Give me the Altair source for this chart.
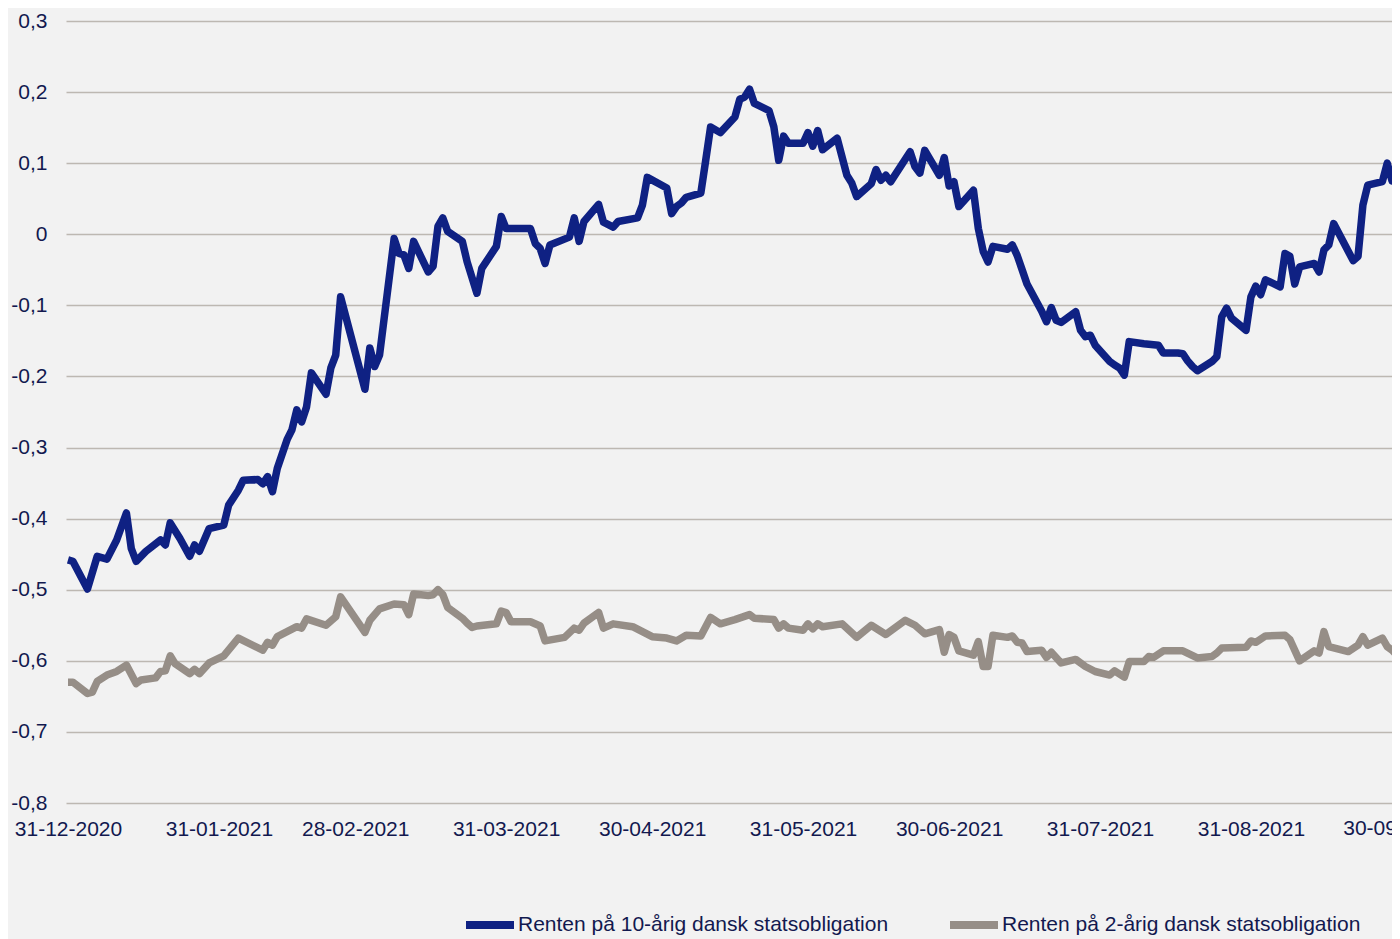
import altair as alt
import pandas as pd

SERIES_10 = "Renten på 10-årig dansk statsobligation"
SERIES_2 = "Renten på 2-årig dansk statsobligation"

dates_10 = [
    "2020-12-31", "2021-01-01", "2021-01-04", "2021-01-06", "2021-01-08", "2021-01-10",
    "2021-01-12", "2021-01-13", "2021-01-14", "2021-01-16", "2021-01-19", "2021-01-20",
    "2021-01-21", "2021-01-23", "2021-01-25", "2021-01-26", "2021-01-27", "2021-01-29",
    "2021-02-01", "2021-02-02", "2021-02-04", "2021-02-05", "2021-02-08", "2021-02-09",
    "2021-02-10", "2021-02-11", "2021-02-12", "2021-02-14", "2021-02-15", "2021-02-16",
    "2021-02-17", "2021-02-18", "2021-02-19", "2021-02-22", "2021-02-23", "2021-02-24",
    "2021-02-25", "2021-03-02", "2021-03-03", "2021-03-04", "2021-03-05", "2021-03-08",
    "2021-03-09", "2021-03-10", "2021-03-11", "2021-03-12", "2021-03-15", "2021-03-16",
    "2021-03-17", "2021-03-18", "2021-03-19", "2021-03-22", "2021-03-23", "2021-03-25",
    "2021-03-26", "2021-03-29", "2021-03-30", "2021-03-31", "2021-04-05", "2021-04-06",
    "2021-04-07", "2021-04-08", "2021-04-09", "2021-04-13", "2021-04-14", "2021-04-15",
    "2021-04-16", "2021-04-19", "2021-04-20", "2021-04-22", "2021-04-23", "2021-04-27",
    "2021-04-28", "2021-04-29", "2021-05-03", "2021-05-04", "2021-05-05", "2021-05-06",
    "2021-05-07", "2021-05-10", "2021-05-11", "2021-05-12", "2021-05-14", "2021-05-17",
    "2021-05-18", "2021-05-19", "2021-05-20", "2021-05-21", "2021-05-24", "2021-05-25",
    "2021-05-26", "2021-05-27", "2021-05-28", "2021-05-31", "2021-06-01", "2021-06-02",
    "2021-06-03", "2021-06-04", "2021-06-07", "2021-06-09", "2021-06-10", "2021-06-11",
    "2021-06-14", "2021-06-15", "2021-06-16", "2021-06-17", "2021-06-18", "2021-06-22",
    "2021-06-23", "2021-06-24", "2021-06-25", "2021-06-28", "2021-06-29", "2021-06-30",
    "2021-07-01", "2021-07-02", "2021-07-05", "2021-07-06", "2021-07-07", "2021-07-08",
    "2021-07-09", "2021-07-12", "2021-07-13", "2021-07-14", "2021-07-15", "2021-07-16",
    "2021-07-19", "2021-07-20", "2021-07-21", "2021-07-22", "2021-07-23", "2021-07-26",
    "2021-07-27", "2021-07-28", "2021-07-29", "2021-07-30", "2021-08-02", "2021-08-03",
    "2021-08-04", "2021-08-05", "2021-08-06", "2021-08-09", "2021-08-12", "2021-08-13",
    "2021-08-16", "2021-08-17", "2021-08-18", "2021-08-19", "2021-08-20", "2021-08-23",
    "2021-08-24", "2021-08-25", "2021-08-26", "2021-08-27", "2021-08-30", "2021-08-31",
    "2021-09-01", "2021-09-02", "2021-09-03", "2021-09-06", "2021-09-07", "2021-09-08",
    "2021-09-09", "2021-09-10", "2021-09-13", "2021-09-14", "2021-09-15", "2021-09-16",
    "2021-09-17", "2021-09-21", "2021-09-22", "2021-09-23", "2021-09-24", "2021-09-27",
    "2021-09-28", "2021-09-29", "2021-09-30", "2021-10-01",
]
values_10 = [
    -0.458, -0.460, -0.499, -0.453, -0.457, -0.430,
    -0.392, -0.442, -0.460, -0.446, -0.430, -0.437,
    -0.406, -0.428, -0.453, -0.437, -0.446, -0.414,
    -0.409, -0.381, -0.360, -0.346, -0.345, -0.351,
    -0.341, -0.362, -0.329, -0.289, -0.275, -0.247,
    -0.264, -0.243, -0.195, -0.225, -0.188, -0.170,
    -0.088, -0.218, -0.160, -0.186, -0.170, -0.006,
    -0.027, -0.029, -0.048, -0.010, -0.053, -0.045,
    0.011, 0.023, 0.004, -0.010, -0.039, -0.083,
    -0.048, -0.017, 0.025, 0.008, 0.008, -0.013,
    -0.020, -0.041, -0.015, -0.004, 0.023, -0.010,
    0.018, 0.042, 0.017, 0.010, 0.018, 0.023,
    0.041, 0.080, 0.065, 0.029, 0.039, 0.044,
    0.052, 0.058, 0.104, 0.151, 0.143, 0.165,
    0.190, 0.193, 0.204, 0.184, 0.174, 0.151,
    0.104, 0.138, 0.128, 0.128, 0.143, 0.124,
    0.146, 0.119, 0.135, 0.083, 0.072, 0.053,
    0.071, 0.091, 0.076, 0.083, 0.074, 0.116,
    0.095, 0.086, 0.118, 0.083, 0.108, 0.068,
    0.074, 0.039, 0.062, 0.008, -0.024, -0.039,
    -0.017, -0.021, -0.015, -0.030, -0.050, -0.070,
    -0.108, -0.123, -0.103, -0.121, -0.124, -0.109,
    -0.135, -0.144, -0.142, -0.156, -0.179, -0.184,
    -0.188, -0.198, -0.151, -0.154, -0.156, -0.167,
    -0.167, -0.168, -0.178, -0.186, -0.192, -0.179,
    -0.172, -0.116, -0.104, -0.118, -0.135, -0.088,
    -0.073, -0.085, -0.064, -0.074, -0.027, -0.031,
    -0.070, -0.046, -0.041, -0.053, -0.022, -0.015,
    0.015, -0.037, -0.031, 0.041, 0.069, 0.074,
    0.100, 0.075, 0.090, -0.005,
]

dates_2 = [
    "2020-12-31", "2021-01-01", "2021-01-04", "2021-01-05", "2021-01-06", "2021-01-08",
    "2021-01-10", "2021-01-12", "2021-01-14", "2021-01-15", "2021-01-18", "2021-01-19",
    "2021-01-20", "2021-01-21", "2021-01-22", "2021-01-25", "2021-01-26", "2021-01-27",
    "2021-01-29", "2021-02-01", "2021-02-04", "2021-02-09", "2021-02-10", "2021-02-11",
    "2021-02-12", "2021-02-16", "2021-02-17", "2021-02-18", "2021-02-22", "2021-02-24",
    "2021-02-25", "2021-03-02", "2021-03-03", "2021-03-05", "2021-03-08", "2021-03-10",
    "2021-03-11", "2021-03-12", "2021-03-15", "2021-03-16", "2021-03-17", "2021-03-18",
    "2021-03-19", "2021-03-22", "2021-03-23", "2021-03-24", "2021-03-25", "2021-03-29",
    "2021-03-30", "2021-03-31", "2021-04-01", "2021-04-05", "2021-04-07", "2021-04-08",
    "2021-04-12", "2021-04-14", "2021-04-15", "2021-04-16", "2021-04-19", "2021-04-20",
    "2021-04-22", "2021-04-26", "2021-04-28", "2021-04-30", "2021-05-03", "2021-05-05",
    "2021-05-07", "2021-05-10", "2021-05-12", "2021-05-14", "2021-05-17", "2021-05-20",
    "2021-05-21", "2021-05-25", "2021-05-26", "2021-05-27", "2021-05-28", "2021-05-31",
    "2021-06-01", "2021-06-02", "2021-06-03", "2021-06-04", "2021-06-08", "2021-06-11",
    "2021-06-14", "2021-06-17", "2021-06-21", "2021-06-23", "2021-06-25", "2021-06-28",
    "2021-06-29", "2021-06-30", "2021-07-01", "2021-07-02", "2021-07-05", "2021-07-06",
    "2021-07-07", "2021-07-08", "2021-07-09", "2021-07-12", "2021-07-13", "2021-07-14",
    "2021-07-15", "2021-07-16", "2021-07-19", "2021-07-20", "2021-07-21", "2021-07-23",
    "2021-07-26", "2021-07-28", "2021-07-30", "2021-08-02", "2021-08-03", "2021-08-05",
    "2021-08-06", "2021-08-09", "2021-08-10", "2021-08-11", "2021-08-13", "2021-08-17",
    "2021-08-20", "2021-08-23", "2021-08-24", "2021-08-25", "2021-08-30", "2021-08-31",
    "2021-09-01", "2021-09-03", "2021-09-07", "2021-09-08", "2021-09-10", "2021-09-13",
    "2021-09-14", "2021-09-15", "2021-09-16", "2021-09-20", "2021-09-22", "2021-09-23",
    "2021-09-24", "2021-09-27", "2021-09-28", "2021-09-29", "2021-09-30", "2021-10-01",
]
values_2 = [
    -0.630, -0.630, -0.646, -0.644, -0.629, -0.620,
    -0.615, -0.606, -0.632, -0.627, -0.624, -0.615,
    -0.614, -0.593, -0.604, -0.618, -0.612, -0.618,
    -0.603, -0.593, -0.568, -0.585, -0.574, -0.578,
    -0.566, -0.552, -0.554, -0.541, -0.550, -0.538,
    -0.510, -0.560, -0.543, -0.527, -0.520, -0.521,
    -0.535, -0.506, -0.508, -0.507, -0.500, -0.507,
    -0.525, -0.540, -0.547, -0.553, -0.551, -0.548,
    -0.530, -0.532, -0.545, -0.545, -0.551, -0.572,
    -0.567, -0.554, -0.557, -0.547, -0.532, -0.554,
    -0.548, -0.552, -0.559, -0.566, -0.568, -0.572,
    -0.564, -0.565, -0.539, -0.548, -0.542, -0.535,
    -0.540, -0.542, -0.554, -0.548, -0.554, -0.557,
    -0.548, -0.555, -0.548, -0.552, -0.548, -0.567,
    -0.550, -0.563, -0.543, -0.550, -0.562, -0.556,
    -0.588, -0.563, -0.567, -0.586, -0.592, -0.573,
    -0.608, -0.608, -0.564, -0.567, -0.565, -0.574,
    -0.575, -0.587, -0.585, -0.595, -0.588, -0.603,
    -0.598, -0.608, -0.615, -0.620, -0.614, -0.623,
    -0.601, -0.601, -0.594, -0.595, -0.586, -0.586,
    -0.596, -0.594, -0.589, -0.582, -0.581, -0.572,
    -0.574, -0.565, -0.564, -0.570, -0.600, -0.586,
    -0.589, -0.559, -0.580, -0.587, -0.578, -0.566,
    -0.578, -0.568, -0.580, -0.585, -0.592, -0.660,
]

tick_dates = [
    "2020-12-31", "2021-01-31", "2021-02-28", "2021-03-31", "2021-04-30",
    "2021-05-31", "2021-06-30", "2021-07-31", "2021-08-31", "2021-09-30",
]
y_ticks = [-0.8, -0.7, -0.6, -0.5, -0.4, -0.3, -0.2, -0.1, 0.0, 0.1, 0.2, 0.3]

BLUE = "#0f2183"
GRAY = "#968e87"
TEXT = "#12194f"
FONT = "Liberation Sans"
FS = 21

df = pd.concat([
    pd.DataFrame({"date": dates_10, "value": values_10, "serie": SERIES_10}),
    pd.DataFrame({"date": dates_2, "value": values_2, "serie": SERIES_2}),
])

# last tick label (lies just past the visible plot edge, drawn so it is cut like the reference)
edge_label = pd.DataFrame({
    "date": [tick_dates[-1]],
    "value": [y_ticks[0]],
    "label": ["-".join(reversed(tick_dates[-1].split("-")))],
})


def dt(s, hours=0, minutes=0):
    y, m, d = (int(p) for p in s.split("-"))
    return alt.DateTime(year=y, month=m, date=d, hours=hours, minutes=minutes, utc=True)


x_axis = alt.Axis(
    values=[dt(s) for s in tick_dates],
    labelExpr="utcFormat(datum.value, '%d-%m-%Y')",
    title=None,
    grid=False,
    domain=False,
    ticks=False,
    labelFontSize=FS,
    labelFont=FONT,
    labelColor=TEXT,
    labelPadding=15,
    labelOverlap=False,
    labelFlush=False,
    labelBound=False,
)

y_axis = alt.Axis(
    values=y_ticks,
    labelExpr="datum.value == 0 ? '0' : replace(replace(format(datum.value, '.1f'), '.', ','), '\u2212', '-')",
    title=None,
    grid=True,
    gridColor="#bdb8b2",
    gridWidth=1.4,
    domain=False,
    ticks=False,
    labelFontSize=FS,
    labelFont=FONT,
    labelColor=TEXT,
    labelPadding=19,
)

x_enc = alt.X(
    "date:T",
    scale=alt.Scale(type="utc", domain=[dt("2020-12-30", 14, 10), dt("2021-09-28", 23, 31)]),
    axis=x_axis,
)
y_enc = alt.Y(
    "value:Q",
    scale=alt.Scale(domain=[-0.8, 0.3], nice=False, zero=False),
    axis=y_axis,
)

lines = (
    alt.Chart(df)
    .mark_line(strokeWidth=7.5, strokeJoin="round", clip=True)
    .encode(
        x=x_enc,
        y=y_enc,
        color=alt.Color(
            "serie:N",
            scale=alt.Scale(domain=[SERIES_10, SERIES_2], range=[BLUE, GRAY]),
            legend=alt.Legend(
                title=None,
                orient="none",
                legendX=396,
                legendY=876,
                direction="horizontal",
                symbolType="stroke",
                symbolStrokeWidth=8,
                symbolSize=2304,
                labelFontSize=FS,
                labelFont=FONT,
                labelColor=TEXT,
                labelOffset=0,
                columnPadding=45,
                labelLimit=0,
            ),
        ),
        order=alt.Order("serie:N", sort="descending"),
    )
)

edge_text = (
    alt.Chart(edge_label)
    .mark_text(font=FONT, fontSize=FS, color=TEXT, baseline="top", align="center", dy=15, clip=False)
    .encode(x=x_enc, y=y_enc, text="label:N")
)

chart = (
    alt.layer(lines, edge_text)
    .properties(
        width=1326,
        height=782,
        background="#f2f2f2",
        padding={"left": 58, "top": 13, "right": 0, "bottom": 136},
        autosize=alt.AutoSizeParams(type="none"),
    )
    .configure_view(stroke=None)
)

chart.save("out.html", embed_options={"renderer": "svg", "actions": False})
